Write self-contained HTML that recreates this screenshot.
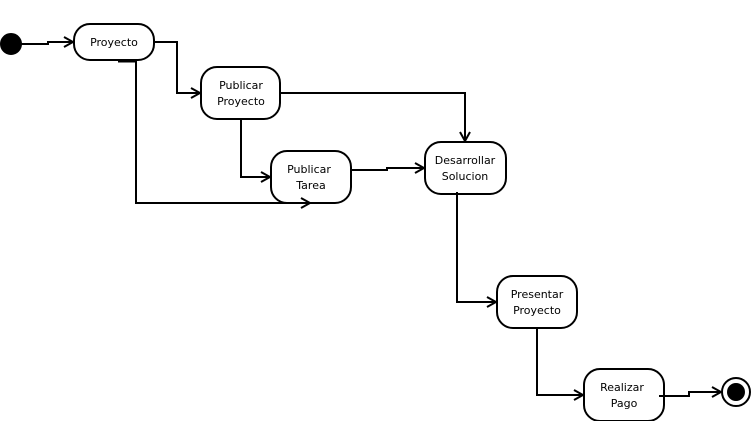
<!DOCTYPE html>
<html><head><meta charset="utf-8"><style>
html,body{margin:0;padding:0;background:#fff;}
svg{display:block;}
text{font-family:"DejaVu Sans","Liberation Sans",sans-serif;font-size:11px;fill:#000;}
</style></head><body>
<svg width="752" height="421" viewBox="0 0 752 421" xmlns="http://www.w3.org/2000/svg">
<defs><marker id="a" markerWidth="12" markerHeight="12" refX="10" refY="6" orient="auto" markerUnits="userSpaceOnUse"><path d="M1,1 L10,6 L1,11" fill="none" stroke="#000" stroke-width="2"/></marker></defs>
<g fill="none" stroke="#000" stroke-width="2">
<circle cx="11" cy="44" r="10" fill="#000"/>
<circle cx="736" cy="392" r="14" fill="#fff"/>
<circle cx="736" cy="392" r="9" fill="#000" stroke="none"/>
<rect x="74" y="24" width="80" height="36" rx="16" fill="#fff"/>
<rect x="201" y="67" width="79" height="52" rx="16" fill="#fff"/>
<rect x="271" y="151" width="80" height="52" rx="16" fill="#fff"/>
<rect x="425" y="142" width="81" height="52" rx="16" fill="#fff"/>
<rect x="497" y="276" width="80" height="52" rx="16" fill="#fff"/>
<rect x="584" y="369" width="80" height="52" rx="16" fill="#fff"/>
<path d="M21,44 H48 V42 H73" marker-end="url(#a)"/>
<path d="M154,42 H177 V93 H200" marker-end="url(#a)"/>
<path d="M136,60 V203 H310" marker-end="url(#a)"/>
<path d="M118,61 H136" stroke-width="3"/>
<path d="M241,119 V177 H270" marker-end="url(#a)"/>
<path d="M280,93 H465 V141" marker-end="url(#a)"/>
<path d="M351,170 H387 V168 H424" marker-end="url(#a)"/>
<path d="M457,192 V302 H496" marker-end="url(#a)"/>
<path d="M537,328 V395 H583" marker-end="url(#a)"/>
<path d="M659,396 H689 V392 H721" marker-end="url(#a)"/>
</g>
<text x="114" y="46" text-anchor="middle">Proyecto</text>
<text x="241" y="89" text-anchor="middle">Publicar</text>
<text x="241" y="105" text-anchor="middle">Proyecto</text>
<text x="309" y="173" text-anchor="middle">Publicar</text>
<text x="311" y="189" text-anchor="middle">Tarea</text>
<text x="465" y="164" text-anchor="middle">Desarrollar</text>
<text x="465" y="180" text-anchor="middle">Solucion</text>
<text x="537" y="298" text-anchor="middle">Presentar</text>
<text x="537" y="314" text-anchor="middle">Proyecto</text>
<text x="622" y="391" text-anchor="middle">Realizar</text>
<text x="624" y="407" text-anchor="middle">Pago</text>
</svg>
</body></html>
